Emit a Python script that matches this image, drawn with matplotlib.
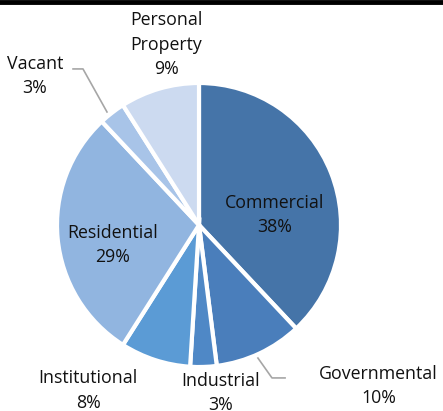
import matplotlib
matplotlib.use("Agg")
import matplotlib.pyplot as plt

categories = ["Commercial", "Governmental", "Industrial", "Institutional",
              "Residential", "Vacant", "Personal\nProperty"]
shares = [38, 10, 3, 8, 29, 3, 9]
colors = ["#4574A8", "#4A7EBB", "#4F88C6", "#5B9BD5",
          "#91B5E0", "#A8C4E8", "#CCDAF0"]

# label positions in pie data units (radius = 1)
label_pos = [(0.535, 0.07), (1.265, -1.135), (0.15, -1.185), (-0.78, -1.165),
             (-0.61, -0.14), (-1.155, 1.05), (-0.23, 1.27)]

W, H = 443, 411
cx, cy, r = 199, 225, 142

fig = plt.figure(figsize=(W / 100, H / 100), dpi=100)
ax = fig.add_axes([(cx - r) / W, (H - cy - r) / H, 2 * r / W, 2 * r / H])

ax.pie(shares, colors=colors, startangle=90, counterclock=False,
       wedgeprops=dict(edgecolor="white", linewidth=3))
ax.set_xlim(-1, 1)
ax.set_ylim(-1, 1)
ax.set_aspect("equal")
ax.axis("off")

for name, val, (x, y) in zip(categories, shares, label_pos):
    ax.text(x, y, f"{name}\n{val}%", ha="center", va="center",
            fontsize=12.8, family="Open Sans", color="#111111",
            linespacing=1.45, clip_on=False)

# leader lines
ax.plot([-0.648, -0.817, -0.887], [0.796, 1.099, 1.099],
        color="#a6a6a6", lw=1.2, clip_on=False)
ax.plot([0.415, 0.514, 0.606], [-0.937, -1.077, -1.077],
        color="#a6a6a6", lw=1.2, clip_on=False)

# top border line of cropped frame
fig.add_artist(plt.Line2D([0, 1], [1 - 2 / H, 1 - 2 / H], color="black",
                          lw=3.5, transform=fig.transFigure))

fig.savefig("out.png", dpi=100)
